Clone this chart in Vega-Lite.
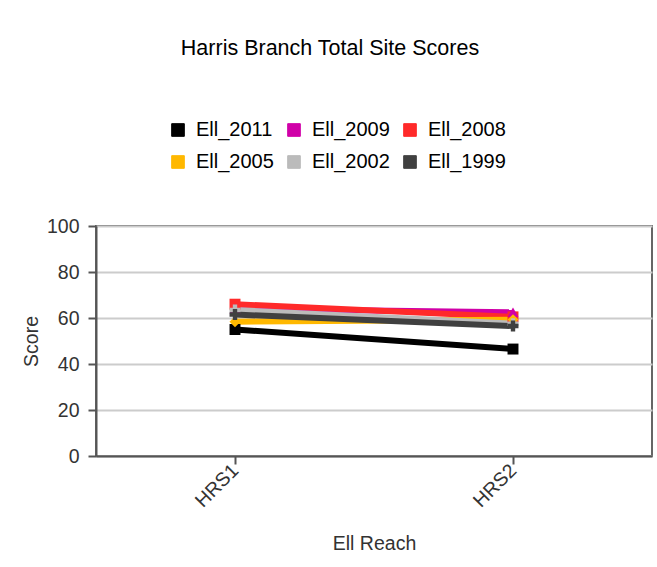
{
  "$schema": "https://vega.github.io/schema/vega-lite/v6.json",
  "width": 556,
  "height": 230,
  "autosize": {"type": "none"},
  "padding": {"left": 96, "top": 226, "right": 5, "bottom": 111},
  "background": "white",
  "title": {
    "text": "Harris Branch Total Site Scores",
    "fontSize": 21.5,
    "font": "Liberation Sans",
    "fontWeight": "normal",
    "color": "#000000",
    "anchor": "middle",
    "frame": "group",
    "dx": -44,
    "offset": 61
  },
  "data": {
    "values": [
      {"reach": "HRS1", "series": "Ell_2011", "score": 55},
      {"reach": "HRS2", "series": "Ell_2011", "score": 46.5},
      {"reach": "HRS1", "series": "Ell_2009", "score": 64},
      {"reach": "HRS2", "series": "Ell_2009", "score": 62.5},
      {"reach": "HRS1", "series": "Ell_2008", "score": 66},
      {"reach": "HRS2", "series": "Ell_2008", "score": 60.5},
      {"reach": "HRS1", "series": "Ell_2005", "score": 58.4},
      {"reach": "HRS2", "series": "Ell_2005", "score": 59.3},
      {"reach": "HRS1", "series": "Ell_2002", "score": 63.5},
      {"reach": "HRS2", "series": "Ell_2002", "score": 57.5},
      {"reach": "HRS1", "series": "Ell_1999", "score": 61.5},
      {"reach": "HRS2", "series": "Ell_1999", "score": 56.5}
    ]
  },
  "config": {
    "font": "Liberation Sans",
    "view": {"stroke": "#666666", "strokeWidth": 2},
    "axis": {
      "labelFont": "Liberation Sans",
      "titleFont": "Liberation Sans",
      "labelFontSize": 19.5,
      "titleFontSize": 19.5,
      "labelColor": "#333333",
      "titleColor": "#333333",
      "titleFontWeight": "normal",
      "domainColor": "#555555",
      "domainWidth": 2,
      "tickColor": "#555555",
      "tickWidth": 2,
      "tickSize": 8,
      "gridColor": "#cccccc",
      "gridWidth": 2
    },
    "legend": {
      "labelFont": "Liberation Sans",
      "labelFontSize": 20,
      "labelColor": "#000000"
    }
  },
  "encoding": {
    "x": {
      "field": "reach",
      "type": "nominal",
      "title": "Ell Reach",
      "scale": {"type": "point", "padding": 0.5},
      "axis": {"labelAngle": -45, "labelAlign": "right", "labelBaseline": "middle", "grid": false, "titlePadding": 24, "labelPadding": 3}
    },
    "y": {
      "field": "score",
      "type": "quantitative",
      "title": "Score",
      "scale": {"domain": [0, 100], "nice": false},
      "axis": {"values": [0, 20, 40, 60, 80, 100], "titlePadding": 5, "labelPadding": 9}
    },
    "color": {
      "field": "series",
      "type": "nominal",
      "sort": ["Ell_2011", "Ell_2009", "Ell_2008", "Ell_2005", "Ell_2002", "Ell_1999"],
      "scale": {
        "domain": ["Ell_2011", "Ell_2009", "Ell_2008", "Ell_2005", "Ell_2002", "Ell_1999"],
        "range": ["#000000", "#d000a8", "#ff2a2a", "#ffb800", "#bbbbbb", "#404040"]
      },
      "legend": {
        "title": null,
        "orient": "none",
        "legendX": 72,
        "legendY": -106,
        "direction": "horizontal",
        "columns": 3,
        "symbolType": "square",
        "symbolSize": 160,
        "symbolStrokeColor": "#000000",
        "symbolStrokeWidth": 1,
        "symbolOpacity": 1,
        "columnPadding": 10,
        "rowPadding": 12,
        "labelOffset": 8
      }
    }
  },
  "layer": [
    {
      "mark": {"type": "line", "strokeWidth": 6},
      "encoding": {
        "order": {"field": "series", "type": "nominal"}
      }
    },
    {
      "transform": [{"filter": {"field": "series", "oneOf": ["Ell_2011", "Ell_2008"]}}],
      "mark": {"type": "point", "shape": "square", "filled": true, "size": 120, "opacity": 1}
    },
    {
      "transform": [{"filter": {"field": "series", "equal": "Ell_2009"}}],
      "mark": {"type": "point", "shape": "triangle-up", "filled": true, "size": 120, "opacity": 1}
    },
    {
      "transform": [{"filter": {"field": "series", "equal": "Ell_2005"}}],
      "mark": {"type": "point", "shape": "diamond", "filled": true, "size": 120, "opacity": 1}
    },
    {
      "transform": [{"filter": {"field": "series", "oneOf": ["Ell_2002", "Ell_1999"]}}],
      "mark": {"type": "point", "shape": "cross", "filled": true, "size": 120, "opacity": 1}
    }
  ]
}
